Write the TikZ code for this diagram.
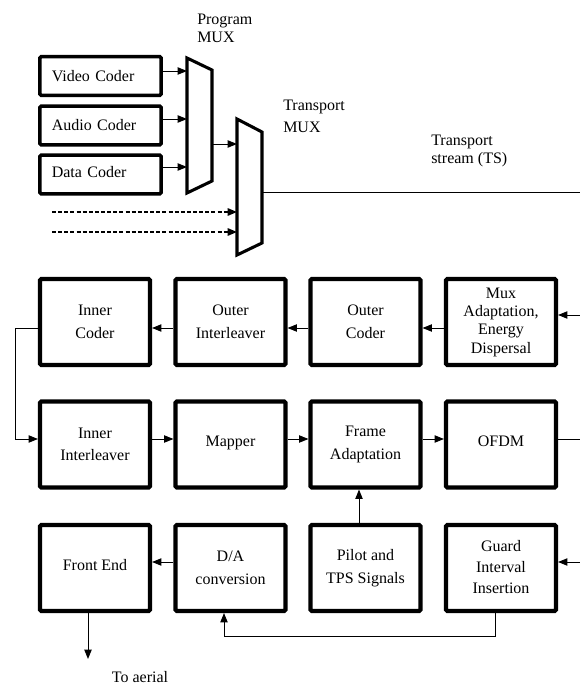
\documentclass[tikz,border=0pt]{standalone}
\usepackage{fontspec}
\setmainfont{Liberation Serif}
\usetikzlibrary{arrows.meta}
\begin{document}
\begin{tikzpicture}[x=0.75pt,y=-0.75pt,
  blk/.style={draw,line width=3.1pt,rounded corners=1pt,minimum width=82.5pt,minimum height=64.5pt,inner sep=0pt,align=center,font=\fontsize{12pt}{17pt}\selectfont},
  coder/.style={draw,line width=2.6pt,rounded corners=1pt,minimum width=91pt,minimum height=29pt,inner xsep=9pt,inner ysep=0pt,text width=73pt,align=left,font=\fontsize{12pt}{14pt}\selectfont},
  mux/.style={draw,line width=2.3pt,line join=miter},
  lbl/.style={inner sep=0pt,align=left,anchor=west},
  arr/.style={line width=0.7pt,-{Triangle[length=7pt,width=5.5pt]}},
  ln/.style={line width=0.7pt},
  dsh/.style={line width=1.3pt,dash pattern=on 3pt off 1.6pt,-{Triangle[length=7pt,width=5.5pt]}}]
\useasboundingbox (0,0) rectangle (580,684);

% top coders
\node[coder] (vid) at (100.5,76) {Video Coder};
\node[coder] (aud) at (100.5,125.5) {Audio Coder};
\node[coder] (dat) at (100.5,174.5) {\raisebox{4pt}{Data Coder}};

% program MUX
\draw[mux] (187,58) -- (212,70) -- (212,181) -- (187,193) -- cycle;
\coordinate (pm1) at (187,71);
\coordinate (pm2) at (187,119);
\coordinate (pm3) at (187,167);
\coordinate (pmo) at (212,144);
% transport MUX
\draw[mux] (237,119) -- (262,132) -- (262,243) -- (237,255) -- cycle;
\coordinate (tm1) at (237,144);
\coordinate (tm2) at (237,212);
\coordinate (tm3) at (237,232);
\coordinate (tmo) at (262,192);
\coordinate (d1) at (52,212);
\coordinate (d2) at (52,232);
\coordinate (tse) at (580,192);

\draw[arr] (vid.east |- pm1) -- (pm1);
\draw[arr] (aud.east |- pm2) -- (pm2);
\draw[arr] (dat.east |- pm3) -- (pm3);
\draw[arr] (pmo) -- (tm1);
\draw[dsh] (d1) -- (tm2);
\draw[dsh] (d2) -- (tm3);
\draw[ln] (tmo) -- (tse);

\node[lbl,font=\fontsize{12pt}{14pt}\selectfont] (lpm) at (197,28.5) {Program\\MUX};
\node[lbl,font=\fontsize{12pt}{17pt}\selectfont] (ltm) at (283,116.5) {Transport\\MUX};
\node[lbl,font=\fontsize{12pt}{13.5pt}\selectfont] (lts) at (431,151) {Transport\\stream (TS)};

% row 1
\node[blk] (ic) at (95,322) {Inner\\Coder};
\node[blk] (oi) at (230.5,322) {Outer\\Interleaver};
\node[blk] (oc) at (365.5,322) {Outer\\Coder};
\node[blk,font=\fontsize{12pt}{13.75pt}\selectfont] (ma) at (501,322) {Mux\\Adaptation,\\Energy\\Dispersal};
% row 2
\node[blk] (ii) at (95,444.5) {Inner\\Interleaver};
\node[blk] (mp) at (230.5,444.5) {\raisebox{5pt}{Mapper}};
\node[blk] (fa) at (365.5,444.5) {Frame\\Adaptation};
\node[blk] (of) at (501,444.5) {\raisebox{5pt}{OFDM}};
% row 3
\node[blk] (fe) at (95,568) {\raisebox{4.5pt}{Front End}};
\node[blk] (da) at (230.5,568) {D/A\\conversion};
\node[blk] (ps) at (365.5,568) {Pilot and\\TPS Signals};
\node[blk,font=\fontsize{12pt}{15.75pt}\selectfont] (gi) at (501,568) {\raisebox{6pt}{\begin{tabular}{@{}c@{}}Guard\\Interval\\Insertion\end{tabular}}};

\coordinate (r1) at (0,328);
\coordinate (r2) at (0,439);
\coordinate (r3) at (0,562);
\coordinate (in1) at (580,315);
\coordinate (in3) at (580,562);
\coordinate (out2) at (580,439);
\coordinate (lp) at (15,0);
\coordinate (pv) at (359,0);
\coordinate (gx) at (495,0);
\coordinate (dx) at (224,0);
\coordinate (fb) at (0,636);
\coordinate (fx) at (88,0);
\coordinate (ae) at (88,659);

\draw[arr] (in1) -- (ma.east |- in1);
\draw[arr] (ma.west |- r1) -- (oc.east |- r1);
\draw[arr] (oc.west |- r1) -- (oi.east |- r1);
\draw[arr] (oi.west |- r1) -- (ic.east |- r1);
\draw[arr] (ic.west |- r1) -- (lp |- r1) -- (lp |- r2) -- (ii.west |- r2);
\draw[arr] (ii.east |- r2) -- (mp.west |- r2);
\draw[arr] (mp.east |- r2) -- (fa.west |- r2);
\draw[arr] (fa.east |- r2) -- (of.west |- r2);
\draw[ln] (of.east |- r2) -- (out2);
\draw[arr] (pv |- ps.north) -- (pv |- fa.south);
\draw[arr] (in3) -- (gi.east |- in3);
\draw[arr] (gx |- gi.south) -- (gx |- fb) -- (dx |- fb) -- (dx |- da.south);
\draw[arr] (da.west |- r3) -- (fe.east |- r3);
\draw[arr] (fx |- fe.south) -- (ae);
\node[inner sep=0pt,font=\fontsize{12pt}{14pt}\selectfont] (ta) at (140,677) {To aerial};
\end{tikzpicture}
\end{document}
